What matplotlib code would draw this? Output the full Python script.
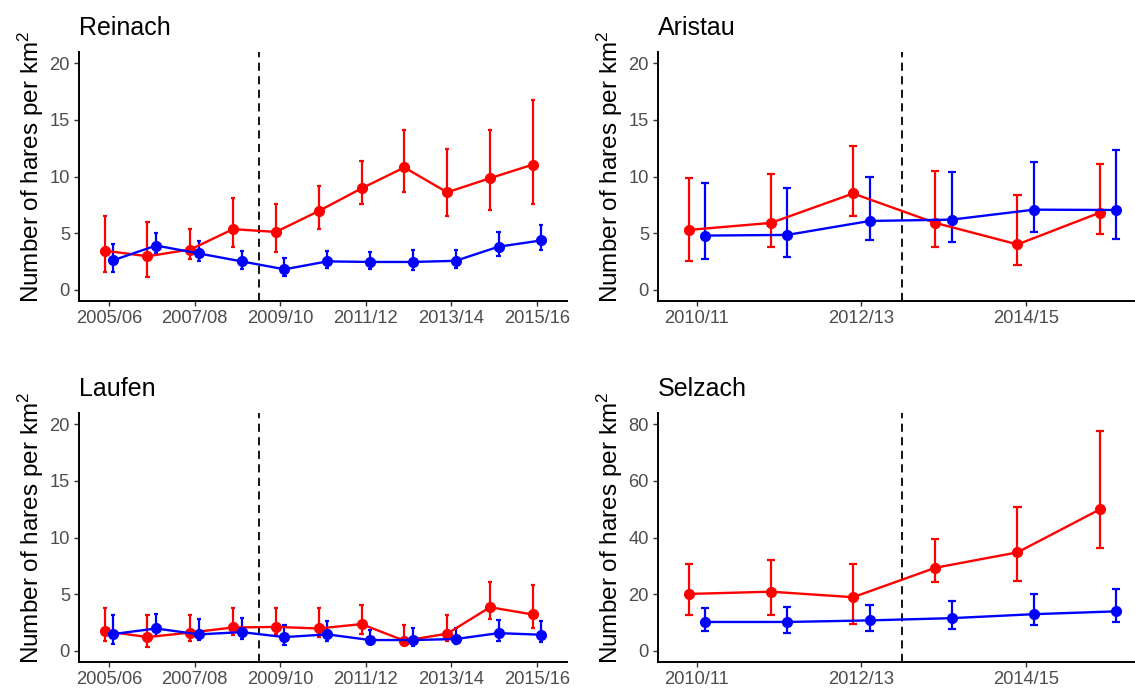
import numpy as np
import matplotlib
matplotlib.use("Agg")
import matplotlib.pyplot as plt

plt.rcParams['font.family'] = ['Liberation Sans', 'DejaVu Sans']
plt.rcParams['mathtext.fontset'] = 'custom'
plt.rcParams['mathtext.rm'] = 'Liberation Sans'
plt.rcParams['mathtext.it'] = 'Liberation Sans'

RED = '#FF0000'
BLUE = '#0000FF'

# seasons
long_seasons = ['2005/06', '2006/07', '2007/08', '2008/09', '2009/10', '2010/11',
                '2011/12', '2012/13', '2013/14', '2014/15', '2015/16']
short_seasons = ['2010/11', '2011/12', '2012/13', '2013/14', '2014/15', '2015/16']

# Reinach
reinach_red = [3.45, 2.95, 3.55, 5.35, 5.1, 6.95, 8.95, 10.8, 8.6, 9.85, 11.05]
reinach_red_lo = [1.6, 1.1, 2.7, 3.8, 3.3, 5.4, 7.55, 8.65, 6.5, 7.0, 7.55]
reinach_red_hi = [6.5, 6.0, 5.4, 8.1, 7.6, 9.2, 11.4, 14.1, 12.45, 14.1, 16.8]
reinach_blue = [2.6, 3.9, 3.2, 2.5, 1.8, 2.5, 2.45, 2.45, 2.55, 3.8, 4.35]
reinach_blue_lo = [1.55, 3.2, 2.5, 1.8, 1.2, 1.95, 1.8, 1.7, 1.9, 3.0, 3.5]
reinach_blue_hi = [4.05, 5.0, 4.3, 3.4, 2.8, 3.4, 3.3, 3.55, 3.55, 5.1, 5.75]

# Aristau
aristau_red = [5.28, 5.9, 8.5, 5.9, 4.0, 6.8]
aristau_red_lo = [2.5, 3.75, 6.5, 3.75, 2.2, 4.95]
aristau_red_hi = [9.88, 10.2, 12.67, 10.5, 8.36, 11.1]
aristau_blue = [4.78, 4.84, 6.07, 6.19, 7.07, 7.04]
aristau_blue_lo = [2.67, 2.9, 4.4, 4.19, 5.13, 4.49]
aristau_blue_hi = [9.44, 9.0, 9.94, 10.4, 11.26, 12.37]

# Laufen
laufen_red = [1.73, 1.2, 1.6, 2.05, 2.1, 1.96, 2.35, 0.88, 1.5, 3.84, 3.2]
laufen_red_lo = [0.85, 0.3, 0.85, 1.38, 1.44, 1.17, 1.44, 0.53, 0.85, 2.8, 2.0]
laufen_red_hi = [3.75, 3.17, 3.17, 3.75, 3.75, 3.75, 4.05, 2.3, 3.17, 6.1, 5.8]
laufen_blue = [1.47, 1.96, 1.44, 1.64, 1.2, 1.44, 0.94, 0.94, 1.03, 1.55, 1.41]
laufen_blue_lo = [0.56, 1.32, 0.94, 1.06, 0.53, 0.88, 0.56, 0.44, 0.56, 0.88, 0.76]
laufen_blue_hi = [3.14, 3.25, 2.8, 2.93, 2.3, 2.6, 1.85, 2.02, 2.02, 2.7, 2.6]

# Selzach
selzach_red = [20.05, 20.85, 18.9, 29.3, 34.75, 49.9]
selzach_red_lo = [12.75, 12.75, 9.6, 24.3, 24.6, 36.2]
selzach_red_hi = [30.8, 32.1, 30.5, 39.4, 50.7, 77.7]
selzach_blue = [10.15, 10.15, 10.7, 11.5, 12.9, 13.9]
selzach_blue_lo = [6.85, 6.3, 6.85, 7.5, 8.9, 10.0]
selzach_blue_hi = [15.15, 15.6, 16.2, 17.7, 19.9, 21.9]

panels = [
    ('Reinach', long_seasons, 3.5, (reinach_red, reinach_red_lo, reinach_red_hi),
     (reinach_blue, reinach_blue_lo, reinach_blue_hi), [0, 5, 10, 15, 20]),
    ('Aristau', short_seasons, 2.5, (aristau_red, aristau_red_lo, aristau_red_hi),
     (aristau_blue, aristau_blue_lo, aristau_blue_hi), [0, 5, 10, 15, 20]),
    ('Laufen', long_seasons, 3.5, (laufen_red, laufen_red_lo, laufen_red_hi),
     (laufen_blue, laufen_blue_lo, laufen_blue_hi), [0, 5, 10, 15, 20]),
    ('Selzach', short_seasons, 2.5, (selzach_red, selzach_red_lo, selzach_red_hi),
     (selzach_blue, selzach_blue_lo, selzach_blue_hi), [0, 20, 40, 60, 80]),
]

W, H = 1135, 688
fig = plt.figure(figsize=(W / 100, H / 100), dpi=100)

# axes boxes in pixels: left, top, right, bottom
boxes = [(79, 52, 567, 301), (658, 52, 1135, 301),
         (79, 413, 567, 662), (658, 413, 1135, 662)]
xlims = [(-0.70, 10.70), (-0.474, 5.33), (-0.70, 10.70), (-0.474, 5.33)]

dodge = 0.1
cap = 0.05

for (name, seasons, cut, red, blue, yt), box, xl in zip(panels, boxes, xlims):
    l, t, r, b = box
    ax = fig.add_axes([l / W, 1 - b / H, (r - l) / W, (b - t) / H])
    x = np.arange(len(seasons))
    for (m, lo, hi), off, col in [(red, -dodge, RED), (blue, dodge, BLUE)]:
        xs = x + off
        ax.vlines(xs, lo, hi, color=col, lw=1.6, zorder=2)
        ax.hlines(lo, xs - cap, xs + cap, color=col, lw=1.6, zorder=2)
        ax.hlines(hi, xs - cap, xs + cap, color=col, lw=1.6, zorder=2)
        ax.plot(xs, m, color=col, lw=1.7, marker='o', ms=7, zorder=3)
    ax.axvline(cut, color='black', ls=(0, (4.5, 3)), lw=1.3, zorder=1)

    ax.set_xlim(*xl)
    ymax = yt[-1]
    ax.set_ylim(-0.05 * ymax, 1.05 * ymax)
    ax.set_yticks(yt)
    ax.set_xticks(x[::2])
    ax.set_xticklabels(seasons[::2])
    for s in ['top', 'right']:
        ax.spines[s].set_visible(False)
    for s in ['left', 'bottom']:
        ax.spines[s].set_linewidth(1.4)
    ax.tick_params(length=3.5, width=1.0, color='#333333', labelcolor='#4D4D4D',
                   labelsize=13.2, pad=3)
    ax.set_ylabel('Number of hares per km$^2$', fontsize=17.5, labelpad=2.5)
    ax.yaxis.label.set_y(0.54)
    ax.set_title(name, loc='left', fontsize=18, pad=12)

fig.savefig('out.png', dpi=100)
